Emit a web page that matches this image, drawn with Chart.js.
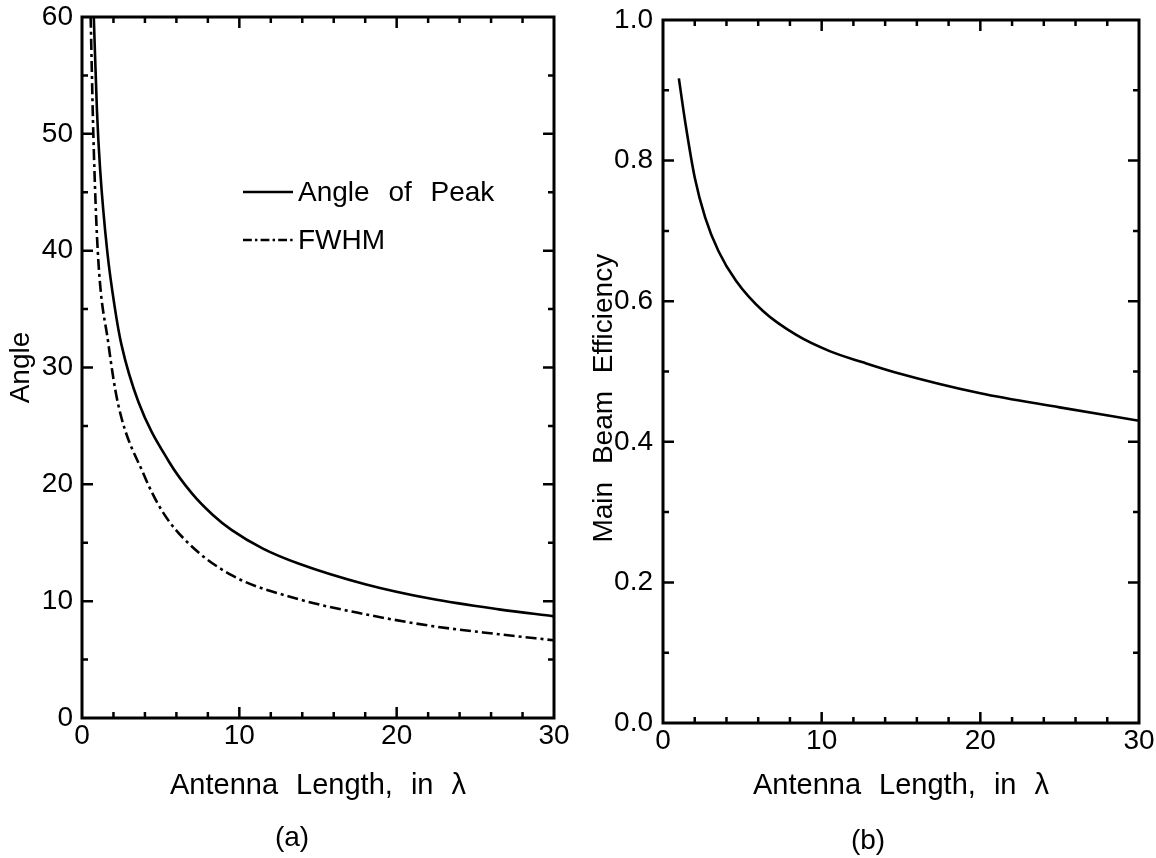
<!DOCTYPE html>
<html>
<head>
<meta charset="utf-8">
<script src="https://cdn.jsdelivr.net/npm/chart.js@4.4.1/dist/chart.umd.min.js"></script>
<style>
  html, body { margin: 0; padding: 0; background: #fff; }
  #wrap { position: relative; width: 1156px; height: 858px; overflow: hidden;
          font-family: 'Liberation Sans', Arial, Helvetica, sans-serif; color: #000; }
  .cv { position: absolute; top: 0; width: 578px; height: 858px; }
  .cv canvas { width: 578px; height: 858px; display: block; }
  .cap { position: absolute; font-size: 28px; line-height: 32px; transform: translateX(-50%); white-space: nowrap; }
  .leg { position: absolute; display: flex; align-items: center; height: 32px; font-size: 28px;
         word-spacing: 11px; white-space: nowrap; }
  .leg svg { margin-right: 5px; }
</style>
</head>
<body>
<div id="wrap">
  <div class="cv" style="left:0px"><canvas id="c1" width="578" height="858"></canvas></div>
  <div class="cv" style="left:578px"><canvas id="c2" width="578" height="858"></canvas></div>
  <div id="legend"></div>
  <div class="cap" style="left:292px; top:821px;">(a)</div>
  <div class="cap" style="left:868px; top:824px;">(b)</div>
</div>
<script>
// ---------------- data ----------------
const peakLength = [0.75, 0.95, 1.15, 1.6, 2.1, 2.5, 3.6, 5.5, 7.0, 8.3, 9.5, 11.5, 13.8, 18, 22.2, 26.5, 30];
const peakAngle  = [60,   52,   47,   40,  35,  32,  27,  22,  19.2, 17.4, 16.1, 14.5, 13.2, 11.45, 10.2, 9.3, 8.7];

const fwhmLength = [0.55, 0.72, 1.0, 1.67, 2.29, 3.94, 5.1, 6.73, 9.54, 13.8, 18, 22.2, 26.5, 30];
const fwhmAngle  = [60,   50,   40,  32.1, 26.9, 20.8, 17.7, 15.0, 12.2, 10.16, 8.88, 7.88, 7.17, 6.65];

const effLength  = [1.0, 1.42, 2.0, 2.66, 3.5, 4.6, 6.3, 8.4, 10.5, 12.6, 14.6, 20, 25, 30];
const effValue   = [0.917, 0.852, 0.776, 0.719, 0.671, 0.629, 0.586, 0.552, 0.529, 0.513, 0.499, 0.469, 0.449, 0.43];

// tick values
const lengthTickLabels = [0, 10, 20, 30];
const lengthMajor = [10, 20];
const lengthMinor = [2, 4, 6, 8, 12, 14, 16, 18, 22, 24, 26, 28];
const angleTickLabels = [0, 10, 20, 30, 40, 50, 60];
const angleMajor = [10, 20, 30, 40, 50];
const angleMinor = [5, 15, 25, 35, 45, 55];
const effTickLabels = [0.0, 0.2, 0.4, 0.6, 0.8, 1.0];
const effMajor = [0.2, 0.4, 0.6, 0.8];
const effMinor = [0.1, 0.3, 0.5, 0.7, 0.9];

const seriesLabels = ['Angle of Peak', 'FWHM'];
const xTitle = 'Antenna Length, in \u03bb';

// ---------------- helpers ----------------
const FONT = "'Liberation Sans', Arial, Helvetica, sans-serif";
Chart.defaults.font.family = FONT;
Chart.defaults.color = '#000';

const zip = (xs, ys) => xs.map((x, i) => ({ x: x, y: ys[i] }));

const framePlugin = {
  id: 'frame',
  beforeDraw(chart) {
    try { chart.ctx.wordSpacing = '10px'; } catch (e) {}
  },
  afterDatasetsDraw(chart, args, o) {
    const ctx = chart.ctx, a = chart.chartArea, xs = chart.scales.x, ys = chart.scales.y;
    ctx.save();
    ctx.strokeStyle = '#000';
    ctx.lineWidth = 3;
    ctx.lineJoin = 'miter';
    ctx.strokeRect(a.left, a.top, a.right - a.left, a.bottom - a.top);
    ctx.lineWidth = 2.5;
    ctx.beginPath();
    const xt = (vals, len) => vals.forEach(v => {
      const p = xs.getPixelForValue(v);
      ctx.moveTo(p, a.bottom); ctx.lineTo(p, a.bottom - len);
      ctx.moveTo(p, a.top);    ctx.lineTo(p, a.top + len);
    });
    const yt = (vals, len) => vals.forEach(v => {
      const p = ys.getPixelForValue(v);
      ctx.moveTo(a.left, p);  ctx.lineTo(a.left + len, p);
      ctx.moveTo(a.right, p); ctx.lineTo(a.right - len, p);
    });
    xt(o.xMajor, 11); xt(o.xMinor, 6);
    yt(o.yMajor, 11); yt(o.yMinor, 6);
    ctx.stroke();
    ctx.restore();
  }
};

function baseOptions(cfg) {
  return {
    responsive: false,
    maintainAspectRatio: false,
    animation: false,
    devicePixelRatio: 1,
    layout: { padding: { left: 0, right: cfg.padRight, top: cfg.padTop, bottom: 0 } },
    plugins: {
      legend: { display: false },
      tooltip: { enabled: false },
      frame: { xMajor: lengthMajor, xMinor: lengthMinor, yMajor: cfg.yMajor, yMinor: cfg.yMinor }
    },
    elements: { point: { radius: 0 }, line: { borderWidth: 2.5 } },
    scales: {
      x: {
        type: 'linear', min: 0, max: 30,
        grid: { display: false, drawTicks: false },
        border: { display: false },
        afterBuildTicks: s => { s.ticks = lengthTickLabels.map(v => ({ value: v })); },
        ticks: { padding: 1, font: { size: 28 }, color: '#000', maxRotation: 0, autoSkip: false },
        title: { display: true, text: xTitle, font: { size: 29 }, color: '#000',
                 padding: { top: 0, bottom: 55 } },
        afterFit: s => { s.height = cfg.xHeight; s.paddingLeft = 0; s.paddingRight = 0; }
      },
      y: {
        type: 'linear', min: cfg.yMin, max: cfg.yMax,
        grid: { display: false, drawTicks: false },
        border: { display: false },
        afterBuildTicks: s => { s.ticks = cfg.yLabels.map(v => ({ value: v })); },
        ticks: { padding: cfg.yTickPad, font: { size: 28 }, color: '#000', autoSkip: false,
                 callback: cfg.yFmt },
        title: { display: true, text: cfg.yTitle, font: { size: 28 }, color: '#000',
                 padding: { top: cfg.yTitlePad, bottom: 0 } },
        afterFit: s => { s.width = cfg.yWidth; s.paddingTop = 0; s.paddingBottom = 0; }
      }
    }
  };
}

// ---------------- chart (a) ----------------
const chartA = new Chart(document.getElementById('c1'), {
  type: 'line',
  data: {
    datasets: [
      { label: seriesLabels[0], data: zip(peakLength, peakAngle), borderColor: '#000',
        borderWidth: 2.6, cubicInterpolationMode: 'monotone', fill: false },
      { label: seriesLabels[1], data: zip(fwhmLength, fwhmAngle), borderColor: '#000',
        borderWidth: 2.6, borderDash: [11, 4, 3, 4], cubicInterpolationMode: 'monotone', fill: false }
    ]
  },
  options: baseOptions({
    padRight: 24, padTop: 17, xHeight: 140, yWidth: 82, yTickPad: 9,
    yMin: 0, yMax: 60, yLabels: angleTickLabels, yMajor: angleMajor, yMinor: angleMinor,
    yTitle: 'Angle', yTitlePad: 4, yFmt: v => String(v)
  }),
  plugins: [framePlugin]
});

// ---------------- chart (b) ----------------
const chartB = new Chart(document.getElementById('c2'), {
  type: 'line',
  data: {
    datasets: [
      { label: 'Main Beam Efficiency', data: zip(effLength, effValue), borderColor: '#000',
        borderWidth: 2.6, cubicInterpolationMode: 'monotone', fill: false }
    ]
  },
  options: baseOptions({
    padRight: 17, padTop: 20, xHeight: 135, yWidth: 85, yTickPad: 10,
    yMin: 0, yMax: 1, yLabels: effTickLabels, yMajor: effMajor, yMinor: effMinor,
    yTitle: 'Main Beam Efficiency   ', yTitlePad: 9, yFmt: v => Number(v).toFixed(1)
  }),
  plugins: [framePlugin]
});

// ---------------- HTML legend for chart (a) ----------------
(function buildLegend() {
  const box = document.getElementById('legend');
  const tops = [176, 224];
  chartA.data.datasets.forEach((ds, i) => {
    const row = document.createElement('div');
    row.className = 'leg';
    row.style.left = '243px';
    row.style.top = tops[i] + 'px';
    const dash = (ds.borderDash && ds.borderDash.length) ? ds.borderDash.map(d => d * 0.8).join(',') : 'none';
    row.innerHTML = '<svg width="50" height="8"><line x1="0" y1="4" x2="50" y2="4" stroke="#000" stroke-width="2.6" stroke-dasharray="' + dash + '"/></svg>';
    const t = document.createElement('span');
    t.textContent = ds.label;
    row.appendChild(t);
    box.appendChild(row);
  });
})();
</script>
</body>
</html>
